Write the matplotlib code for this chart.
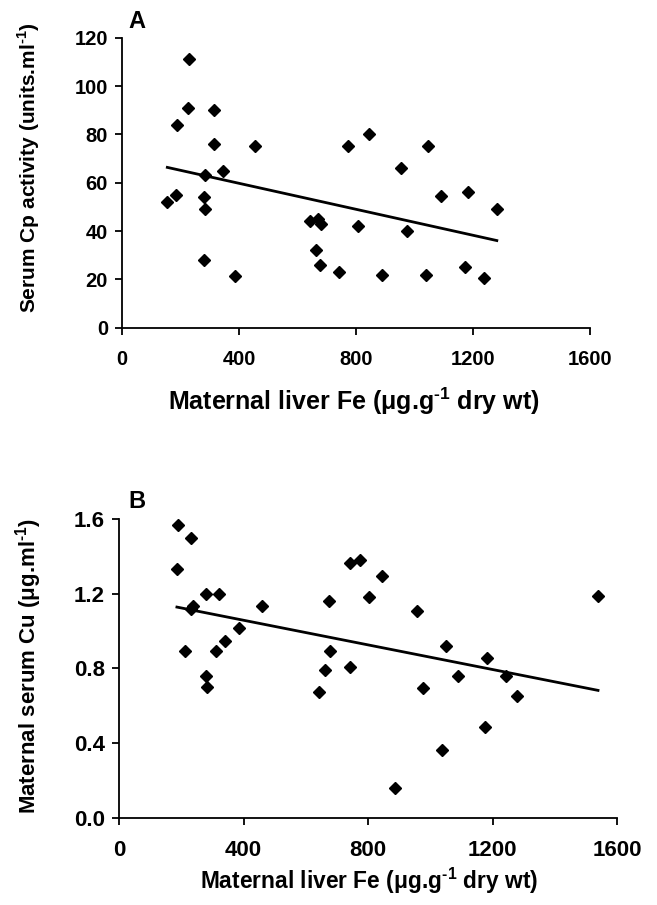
import numpy as np
import matplotlib
matplotlib.use("Agg")
import matplotlib.pyplot as plt

# Panel A: serum Cp activity vs maternal liver Fe
fe_a = [155, 185, 188, 230, 226, 316, 316, 344, 283, 280, 284, 280, 387, 455,
        644, 670, 680, 665, 677, 741, 772, 844, 807, 890, 1046, 954, 1090, 1182,
        1282, 976, 1041, 1173, 1238]
cp_a = [52, 55, 84, 111, 91, 90, 76, 65, 63, 54, 49, 28, 21.5, 75,
        44, 45, 43, 32, 26, 23, 75, 80, 42, 22, 75, 66, 54.5, 56,
        49, 40, 22, 25, 20.5]

# Panel B: maternal serum Cu vs maternal liver Fe
fe_b = [190, 231, 186, 279, 320, 231, 238, 458, 385, 340, 313, 213, 278, 283,
        673, 679, 661, 641, 742, 742, 773, 803, 845, 885, 957, 1049, 1180, 1088,
        1242, 977, 1277, 1176, 1038, 1538]
cu_b = [1.57, 1.50, 1.335, 1.20, 1.20, 1.12, 1.135, 1.135, 1.015, 0.95, 0.895,
        0.895, 0.76, 0.70, 1.16, 0.895, 0.79, 0.675, 0.81, 1.365, 1.38, 1.185,
        1.295, 0.16, 1.11, 0.92, 0.855, 0.76, 0.76, 0.695, 0.65, 0.485, 0.365, 1.19]

x_ticks = [0, 400, 800, 1200, 1600]
y_ticks_a = [0, 20, 40, 60, 80, 100, 120]
y_ticks_b = [0.0, 0.4, 0.8, 1.2, 1.6]

plt.rcParams['font.family'] = ['Liberation Sans', 'DejaVu Sans']
plt.rcParams['font.weight'] = 'bold'
plt.rcParams['mathtext.fontset'] = 'custom'
plt.rcParams['mathtext.rm'] = 'Liberation Sans:bold'
plt.rcParams['mathtext.bf'] = 'Liberation Sans:bold'

W, H = 657, 905
fig = plt.figure(figsize=(W / 100, H / 100), dpi=100)
ax_a = fig.add_axes([0.1857, 0.6379, 0.712, 0.3204])
ax_b = fig.add_axes([0.1811, 0.0965, 0.7585, 0.3297])

sup = '$^{\\text{-1}}$'
xlabel = 'Maternal liver Fe (\u03bcg.g' + sup + ' dry wt)'


def style(ax, x, y, yticks, fmt, ticksize):
    ax.plot(x, y, 'D', color='black', markersize=6.5, clip_on=False)
    # least-squares trend line over the data range
    k, b = np.polyfit(x, y, 1)
    xs = np.array([min(x), max(x)])
    ax.plot(xs, k * xs + b, color='black', linewidth=2)
    ax.set_xlim(0, 1600)
    ax.set_ylim(yticks[0], yticks[-1])
    ax.set_xticks(x_ticks)
    ax.set_yticks(yticks)
    ax.set_yticklabels([fmt.format(v) for v in yticks])
    for s in ['top', 'right']:
        ax.spines[s].set_visible(False)
    for s in ['left', 'bottom']:
        ax.spines[s].set_linewidth(1.3)
    ax.tick_params(direction='out', length=5, width=1.3, labelsize=ticksize)
    ax.tick_params(axis='x', pad=11)
    ax.tick_params(axis='y', pad=5)


def ftext(px, py, s, size, rot=0):
    fig.text(px / W, 1 - py / H, s, fontsize=size, fontweight='bold',
             ha='center', va='center', rotation=rot)


style(ax_a, fe_a, cp_a, y_ticks_a, '{:.0f}', 14.5)
style(ax_b, fe_b, cu_b, y_ticks_b, '{:.1f}', 16)

ftext(354, 401, xlabel, 18)
ftext(29, 168, 'Serum Cp activity (units.ml' + sup + ')', 15, 90)
ftext(369, 881, xlabel, 16.4)
ftext(29, 666, 'Maternal serum Cu (\u03bcg.ml' + sup + ')', 16, 90)
ftext(137, 21, 'A', 17)
ftext(137, 502, 'B', 17)

fig.savefig('out.png', dpi=100)
